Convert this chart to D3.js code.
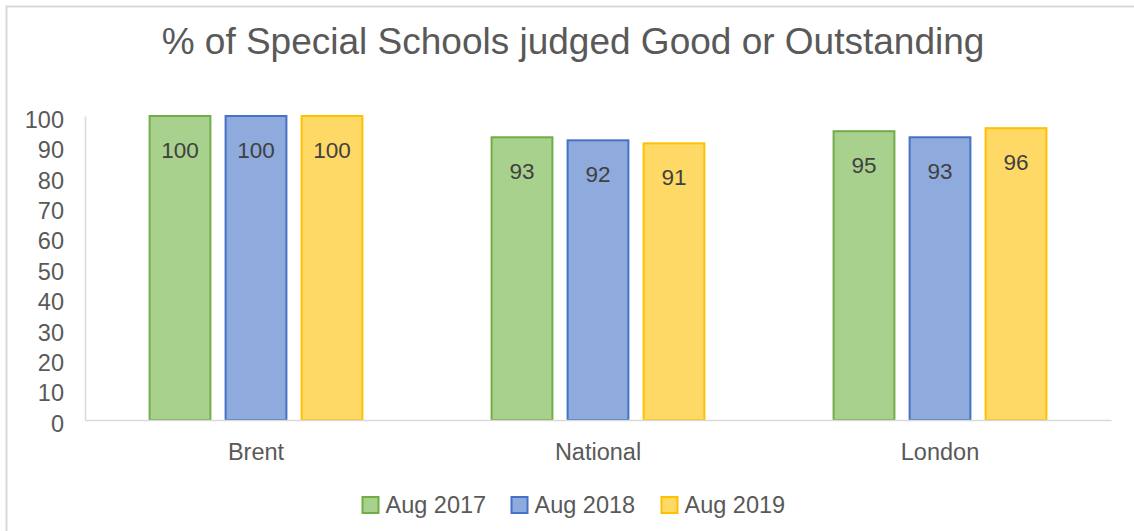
<!DOCTYPE html>
<html>
<head>
<meta charset="utf-8">
<script src="https://cdn.jsdelivr.net/npm/d3@7"></script>
<style>
  html, body { margin: 0; padding: 0; background: #fff; }
  svg { display: block; font-family: "Liberation Sans", Arial, sans-serif; }
</style>
</head>
<body>
<svg id="chart" width="1134" height="531"></svg>
<script>
const title = "% of Special Schools judged Good or Outstanding";
const categories = ["Brent", "National", "London"];
const seriesNames = ["Aug 2017", "Aug 2018", "Aug 2019"];
const aug2017 = [100, 93, 95];
const aug2018 = [100, 92, 93];
const aug2019 = [100, 91, 96];
const yTicks = [0, 10, 20, 30, 40, 50, 60, 70, 80, 90, 100];

const seriesValues = [aug2017, aug2018, aug2019];
const fills = ["#A9D18E", "#8FAADC", "#FFD966"];
const strokes = ["#70AD47", "#4472C4", "#FFC000"];

const svg = d3.select("#chart");
const W = 1134, H = 531;
const margin = { left: 85, right: 23, top: 116, bottom: 111 };

// outer chart border (only top/left visible in frame)
svg.append("rect").attr("x", 6.5).attr("y", 6.5).attr("width", W + 10).attr("height", H + 10)
  .attr("fill", "#fff").attr("stroke", "#D9D9D9").attr("stroke-width", 2);

const x0 = d3.scaleBand().domain(categories)
  .range([margin.left, W - margin.right]).paddingInner(0).paddingOuter(0);
const x1 = d3.scaleBand().domain(seriesNames)
  .range([-106.4, 106.4]).paddingInner(0.2).paddingOuter(0);
const y = d3.scaleLinear().domain([0, 100]).range([H - margin.bottom, margin.top]);

// title
svg.append("text").attr("x", 573).attr("y", 54).attr("text-anchor", "middle")
  .attr("font-size", 37).attr("fill", "#595959").text(title);

// y axis
const yAxis = svg.append("g").attr("transform", `translate(${margin.left},0)`)
  .call(d3.axisLeft(y).tickValues(yTicks).tickSize(0).tickPadding(21));
yAxis.select(".domain").attr("stroke", "#D9D9D9").attr("stroke-width", 1.5);
yAxis.selectAll("text").attr("font-size", 23.5).attr("fill", "#595959")
  .attr("dy", "0.48em")
  .attr("font-family", "Liberation Sans, Arial, sans-serif");

// bars
const groups = svg.append("g").selectAll("g").data(categories).join("g")
  .attr("transform", d => `translate(${x0(d) + x0.bandwidth() / 2},0)`);

groups.each(function (cat, ci) {
  const g = d3.select(this);
  seriesNames.forEach((s, si) => {
    const v = seriesValues[si][ci];
    g.append("rect")
      .attr("x", x1(s)).attr("width", x1.bandwidth())
      .attr("y", y(v)).attr("height", y(0) - y(v))
      .attr("fill", fills[si]).attr("stroke", strokes[si]).attr("stroke-width", 2);
    g.append("text")
      .attr("x", x1(s) + x1.bandwidth() / 2).attr("y", y(v) + 42)
      .attr("text-anchor", "middle").attr("font-size", 22.5).attr("fill", "#404040")
      .text(v);
  });
});

// x axis baseline
const xAxis = svg.append("g").attr("transform", `translate(0,${y(0)})`)
  .call(d3.axisBottom(x0).tickSize(0).tickPadding(23));
xAxis.select(".domain").attr("stroke", "#D9D9D9").attr("stroke-width", 1.5);
xAxis.selectAll("text").attr("font-size", 23.5).attr("fill", "#595959")
  .attr("font-family", "Liberation Sans, Arial, sans-serif");

// legend
const legendX = [362.5, 511.5, 661.5];
const legend = svg.append("g").selectAll("g").data(seriesNames).join("g")
  .attr("transform", (d, i) => `translate(${legendX[i]},497)`);
legend.append("rect").attr("x", 0).attr("y", 0).attr("width", 16).attr("height", 16)
  .attr("fill", (d, i) => fills[i]).attr("stroke", (d, i) => strokes[i]).attr("stroke-width", 2);
legend.append("text").attr("x", 23).attr("y", 16).attr("font-size", 23.5).attr("fill", "#595959")
  .text(d => d);
</script>
</body>
</html>
